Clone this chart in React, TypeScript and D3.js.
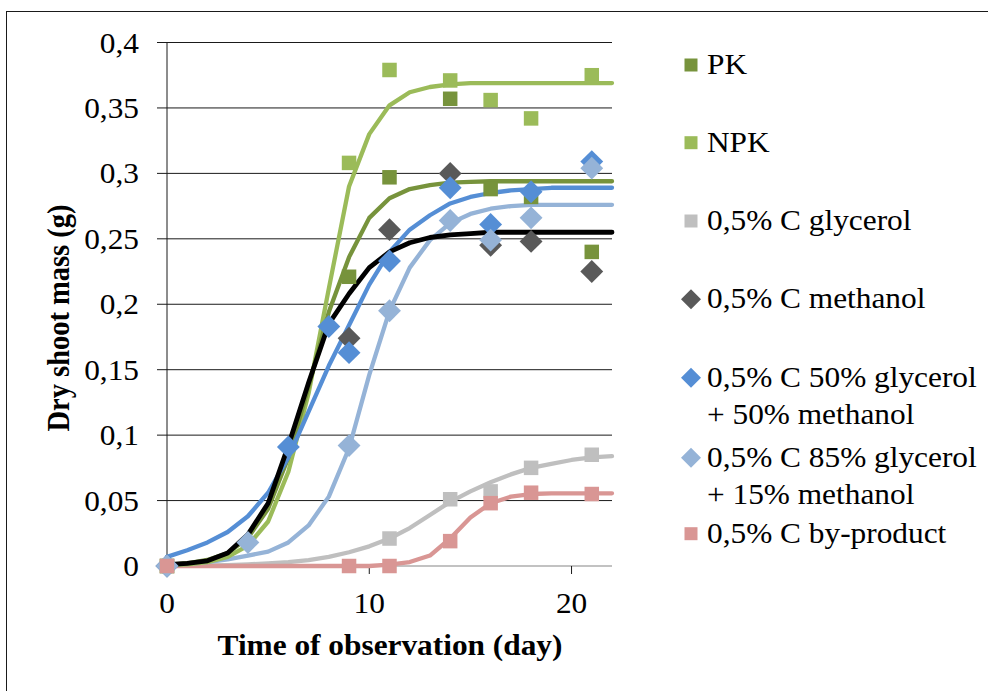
import React from "react";
import * as d3 from "d3";

// ---- Data ----
const fitDays = [0, 1, 2, 3, 4, 5, 6, 7, 8, 9, 10, 11, 12, 13, 14, 15, 16, 17, 18, 19, 20, 21, 22];
const fitPK = [0.0009, 0.0021, 0.0046, 0.010, 0.0215, 0.0438, 0.083, 0.137, 0.194, 0.236, 0.266, 0.281, 0.288, 0.291, 0.293, 0.2935, 0.294, 0.294, 0.294, 0.294, 0.294, 0.294, 0.294];
const fitNPK = [0.0006, 0.0013, 0.003, 0.007, 0.0156, 0.034, 0.072, 0.132, 0.212, 0.29, 0.33, 0.352, 0.362, 0.366, 0.368, 0.369, 0.369, 0.369, 0.369, 0.369, 0.369, 0.369, 0.369];
const fitGlycerol = [0.0001, 0.0002, 0.0004, 0.0007, 0.0012, 0.002, 0.003, 0.0045, 0.007, 0.0105, 0.015, 0.021, 0.029, 0.039, 0.049, 0.057, 0.064, 0.070, 0.075, 0.078, 0.081, 0.083, 0.084];
const fitMethanol = [0.001, 0.002, 0.004, 0.010, 0.024, 0.048, 0.092, 0.140, 0.185, 0.208, 0.228, 0.240, 0.247, 0.251, 0.253, 0.254, 0.255, 0.255, 0.255, 0.255, 0.255, 0.255, 0.255];
const fitMix50 = [0.007, 0.012, 0.018, 0.026, 0.038, 0.056, 0.083, 0.118, 0.153, 0.184, 0.215, 0.240, 0.257, 0.268, 0.277, 0.282, 0.285, 0.287, 0.288, 0.289, 0.289, 0.289, 0.289];
const fitMix85 = [0.001, 0.0015, 0.003, 0.005, 0.008, 0.011, 0.018, 0.031, 0.053, 0.090, 0.146, 0.195, 0.228, 0.249, 0.262, 0.269, 0.273, 0.275, 0.276, 0.276, 0.276, 0.276, 0.276];
const fitByproduct = [0, 0, 0, 0, 0, 0, 0, 0, 0, 0, 0, 0.001, 0.003, 0.008, 0.021, 0.037, 0.048, 0.053, 0.055, 0.0555, 0.0555, 0.0555, 0.0555];

const obsDaysPK = [0, 9, 11, 14, 16, 18, 21];
const obsPK = [0, 0.221, 0.297, 0.357, 0.288, 0.282, 0.240];
const obsDaysNPK = [0, 9, 11, 14, 16, 18, 21];
const obsNPK = [0, 0.308, 0.379, 0.371, 0.356, 0.342, 0.375];
const obsDaysGlycerol = [0, 11, 14, 16, 18, 21];
const obsGlycerol = [0, 0.021, 0.051, 0.057, 0.075, 0.085];
const obsDaysMethanol = [0, 9, 11, 14, 16, 18, 21];
const obsMethanol = [0, 0.174, 0.257, 0.300, 0.245, 0.248, 0.225];
const obsDaysMix50 = [0, 6, 8, 9, 11, 14, 16, 18, 21];
const obsMix50 = [0, 0.091, 0.183, 0.163, 0.233, 0.289, 0.261, 0.286, 0.309];
const obsDaysMix85 = [0, 4, 9, 11, 14, 16, 18, 21];
const obsMix85 = [0, 0.018, 0.092, 0.195, 0.264, 0.249, 0.266, 0.304];
const obsDaysByproduct = [0, 9, 11, 14, 16, 18, 21];
const obsByproduct = [0, 0, 0, 0.019, 0.048, 0.056, 0.055];

const yTicks = [0, 0.05, 0.1, 0.15, 0.2, 0.25, 0.3, 0.35, 0.4];
const yTickLabels = ["0", "0,05", "0,1", "0,15", "0,2", "0,25", "0,3", "0,35", "0,4"];
const xTicks = [0, 10, 20];
const xTickLabels = ["0", "10", "20"];

const legendLabels = [
  ["PK"],
  ["NPK"],
  ["0,5% C glycerol"],
  ["0,5% C methanol"],
  ["0,5% C 50% glycerol", "+ 50% methanol"],
  ["0,5% C 85% glycerol", "+ 15% methanol"],
  ["0,5% C by-product"],
];

// ---- Styles ----
const C_PK = "#77933C";
const C_NPK = "#9BBB59";
const C_GLY = "#BFBFBF";
const C_METH = "#595959";
const C_MIX50 = "#558ED5";
const C_MIX85 = "#95B3D7";
const C_BY = "#D99694";

const FONT = "Liberation Serif, Times New Roman, serif";
const FS = 28.5;
const SX = 1.1;

const x = d3.scaleLinear().domain([0, 22]).range([167, 612]);
const y = d3.scaleLinear().domain([0, 0.4]).range([566, 42.5]);

type Marker = "square" | "diamond";

function MarkerShape({ cx, cy, kind, color, s }: { cx: number; cy: number; kind: Marker; color: string; s: number }) {
  if (kind === "square") {
    return <rect x={cx - s / 2} y={cy - s / 2} width={s} height={s} fill={color} />;
  }
  const h = s * 0.8;
  return (
    <path
      d={`M${cx},${cy - h}L${cx + h},${cy}L${cx},${cy + h}L${cx - h},${cy}Z`}
      fill={color}
    />
  );
}

function T({ x: tx, y: ty, anchor = "start", bold = false, children, rotate = 0 }: any) {
  return (
    <text
      transform={`translate(${tx},${ty}) scale(${SX},1)${rotate ? ` rotate(${rotate})` : ""}`}
      textAnchor={anchor}
      fontFamily={FONT}
      fontSize={FS}
      fontWeight={bold ? "bold" : "normal"}
      fill="#000"
    >
      {children}
    </text>
  );
}

export default function App() {
  const line = d3
    .line<number>()
    .x((_, i) => x(fitDays[i]))
    .y((v) => y(v))
    .curve(d3.curveLinear);

  const fits = [
    { data: fitGlycerol, color: C_GLY, w: 4.3 },
    { data: fitByproduct, color: C_BY, w: 4.3 },
    { data: fitMix85, color: C_MIX85, w: 4.3 },
    { data: fitNPK, color: C_NPK, w: 4.3 },
    { data: fitPK, color: C_PK, w: 4.3 },
    { data: fitMix50, color: C_MIX50, w: 4.3 },
    { data: fitMethanol, color: "#000000", w: 4.8 },
  ];

  const obs: { days: number[]; vals: number[]; color: string; kind: Marker }[] = [
    { days: obsDaysPK, vals: obsPK, color: C_PK, kind: "square" },
    { days: obsDaysNPK, vals: obsNPK, color: C_NPK, kind: "square" },
    { days: obsDaysGlycerol, vals: obsGlycerol, color: C_GLY, kind: "square" },
    { days: obsDaysMethanol, vals: obsMethanol, color: C_METH, kind: "diamond" },
    { days: obsDaysMix50, vals: obsMix50, color: C_MIX50, kind: "diamond" },
    { days: obsDaysMix85, vals: obsMix85, color: C_MIX85, kind: "diamond" },
    { days: obsDaysByproduct, vals: obsByproduct, color: C_BY, kind: "square" },
  ];

  const legendStyle = [
    { color: C_PK, kind: "square" as Marker },
    { color: C_NPK, kind: "square" as Marker },
    { color: C_GLY, kind: "square" as Marker },
    { color: C_METH, kind: "diamond" as Marker },
    { color: C_MIX50, kind: "diamond" as Marker },
    { color: C_MIX85, kind: "diamond" as Marker },
    { color: C_BY, kind: "square" as Marker },
  ];
  const legendBaselines = [74, 151.7, 230, 308.3, 386.7, 466.7, 542.7];
  const legendLineGap = 37.3;

  return (
    <svg width={988} height={691} style={{ position: "absolute", left: 0, top: 0, background: "#fff" }}>
      <rect x={0} y={0} width={988} height={691} fill="#fff" />
      <rect x={6.5} y={11.5} width={1000} height={700} fill="none" stroke="#1a1a1a" strokeWidth={1} />

      {/* gridlines */}
      {yTicks.map((t, i) =>
        i === 0 ? null : (
          <line key={"g" + i} x1={157} x2={612} y1={y(t)} y2={y(t)} stroke="#1a1a1a" strokeWidth={1} />
        )
      )}
      {/* x axis */}
      <line x1={157} x2={612} y1={y(0)} y2={y(0)} stroke="#868686" strokeWidth={1.2} />
      {xTicks.slice(1).map((t, i) => (
        <line key={"xt" + i} x1={x(t)} x2={x(t)} y1={y(0)} y2={y(0) + 8} stroke="#1a1a1a" strokeWidth={1} />
      ))}
      {/* y axis */}
      <line x1={167} x2={167} y1={y(0.4)} y2={y(0) + 8} stroke="#1a1a1a" strokeWidth={1} />

      {/* tick labels */}
      {yTicks.map((t, i) => (
        <T key={"yl" + i} x={139} y={y(t) + 10} anchor="end">
          {yTickLabels[i]}
        </T>
      ))}
      {xTicks.map((t, i) => (
        <T key={"xl" + i} x={x(t)} y={613} anchor="middle">
          {xTickLabels[i]}
        </T>
      ))}

      {/* axis titles */}
      <T x={390} y={655} anchor="middle" bold>
        Time of observation (day)
      </T>
      <T x={69} y={318} anchor="middle" bold rotate={-90}>
        Dry shoot mass (g)
      </T>

      {/* fitted curves */}
      {fits.map((f, i) => (
        <path
          key={"f" + i}
          d={line(f.data) || ""}
          fill="none"
          stroke={f.color}
          strokeWidth={f.w}
          strokeLinejoin="round"
          strokeLinecap="round"
        />
      ))}

      {/* observed points */}
      {obs.map((s, si) =>
        s.days.map((d, i) => (
          <MarkerShape
            key={`o${si}-${i}`}
            cx={x(d)}
            cy={y(s.vals[i])}
            kind={s.kind}
            color={s.color}
            s={s.kind === "square" ? 14.5 : 14.3}
          />
        ))
      )}

      {/* legend */}
      {legendLabels.map((lines, i) => (
        <g key={"lg" + i}>
          <MarkerShape
            cx={691}
            cy={legendBaselines[i] - 9}
            kind={legendStyle[i].kind}
            color={legendStyle[i].color}
            s={legendStyle[i].kind === "square" ? 13 : 12.5}
          />
          {lines.map((ln, j) => (
            <T key={j} x={707} y={legendBaselines[i] + j * legendLineGap}>
              {ln}
            </T>
          ))}
        </g>
      ))}
    </svg>
  );
}
